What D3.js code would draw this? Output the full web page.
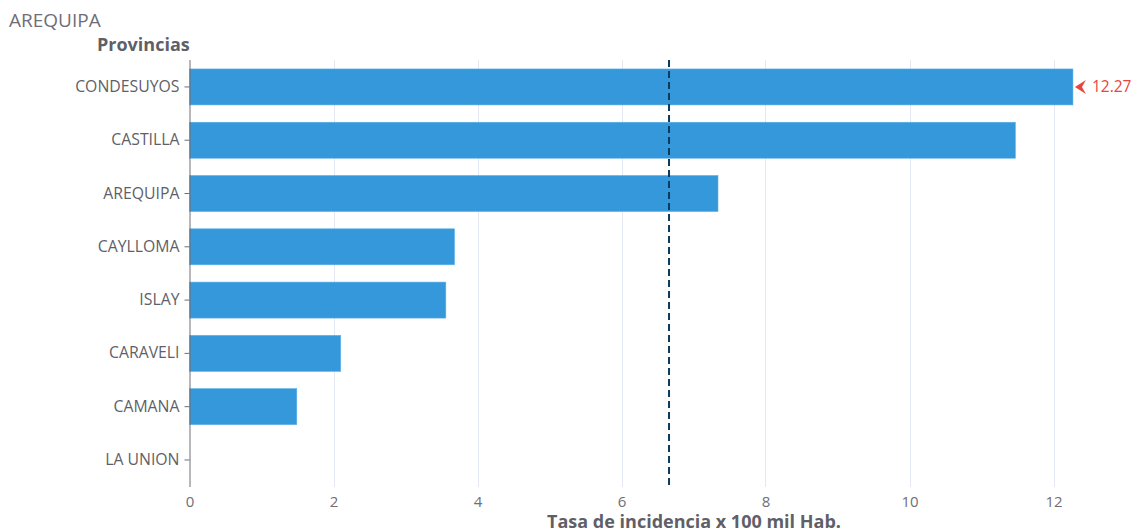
<!DOCTYPE html>
<html><head><meta charset="utf-8">
<script src="https://cdn.jsdelivr.net/npm/d3@7"></script>
<style>
body{margin:0;background:#fff;}
svg text{font-family:"Open Sans",Lato,sans-serif;}
</style></head>
<body><svg id="c" width="1132" height="532"></svg>
<script>
const categories = ["CONDESUYOS","CASTILLA","AREQUIPA","CAYLLOMA","ISLAY","CARAVELI","CAMANA","LA UNION"];
const values = [12.27, 11.47, 7.34, 3.68, 3.56, 2.10, 1.49, 0];
const xTicks = [0, 2, 4, 6, 8, 10, 12];
const referenceValue = 6.66;
const maxLabel = "12.27";
const title = "AREQUIPA";
const yTitle = "Provincias";
const xTitle = "Tasa de incidencia x 100 mil Hab.";

const svg = d3.select("#c");
const left = 189.5, right = 1053.5;
const x = d3.scaleLinear().domain([0, 12]).range([left, right]);
const y = d3.scaleBand().domain(categories).range([60.3, 486.6]).paddingInner(0.325).paddingOuter(0.1625);

// grid
svg.append("g").selectAll("line").data(xTicks.filter(d => d > 0)).join("line")
  .attr("x1", d => Math.round(x(d)) + 0.5).attr("x2", d => Math.round(x(d)) + 0.5)
  .attr("y1", 60).attr("y2", 487).attr("stroke", "#e3e8f2").attr("stroke-width", 1);

// bars
svg.append("g").selectAll("rect").data(values).join("rect")
  .attr("x", x(0)).attr("y", (d, i) => y(categories[i]))
  .attr("width", d => x(d) - x(0)).attr("height", y.bandwidth())
  .attr("fill", "#3598db").attr("stroke", "#5aaee6").attr("stroke-width", 0.6);

// reference line
svg.append("line").attr("x1", x(referenceValue)).attr("x2", x(referenceValue))
  .attr("y1", 60).attr("y2", 487).attr("stroke", "#0d3a5c").attr("stroke-width", 2)
  .attr("stroke-dasharray", "7,4");

// y axis
const yAxis = svg.append("g").attr("transform", `translate(${left},0)`)
  .call(d3.axisLeft(y).tickSize(5).tickSizeOuter(0));
yAxis.select(".domain").attr("stroke", "#6e6e78").attr("d", "M0.5,60V487");
yAxis.selectAll(".tick line").attr("stroke", "#6e6e78");
yAxis.selectAll(".tick text").attr("fill", "#5f5f68").style("font-size", "15.8px").attr("x", -10);

// x axis
const xAxis = svg.append("g").attr("transform", `translate(0,487)`)
  .call(d3.axisBottom(x).tickValues(xTicks).tickSize(0).tickFormat(d3.format("d")));
xAxis.select(".domain").remove();
xAxis.selectAll(".tick text").attr("fill", "#6e6e78").style("font-size", "15px").attr("dy", "0.71em").attr("y", 9);

// max marker
const mv = values[0], my = y(categories[0]) + y.bandwidth() / 2;
const mx = x(mv) + 2;
svg.append("path")
  .attr("d", `M${mx},${my} L${mx + 11},${my - 7} L${mx + 7},${my} L${mx + 11},${my + 7} Z`)
  .attr("fill", "#e8453c");
svg.append("text").attr("x", mx + 17).attr("y", my + 5.5).text(maxLabel)
  .attr("fill", "#e8453c").style("font-size", "15.5px");

// titles
svg.append("text").attr("x", 9).attr("y", 27).text(title).attr("fill", "#6e6e78").style("font-size", "19px");
svg.append("text").attr("x", 97).attr("y", 51).text(yTitle).attr("fill", "#5f5f68")
  .style("font-size", "18px").style("font-weight", "bold");
svg.append("text").attr("x", 694).attr("y", 528).attr("text-anchor", "middle").text(xTitle)
  .attr("fill", "#5f5f68").style("font-size", "18px").style("font-weight", "bold");
</script></body></html>
